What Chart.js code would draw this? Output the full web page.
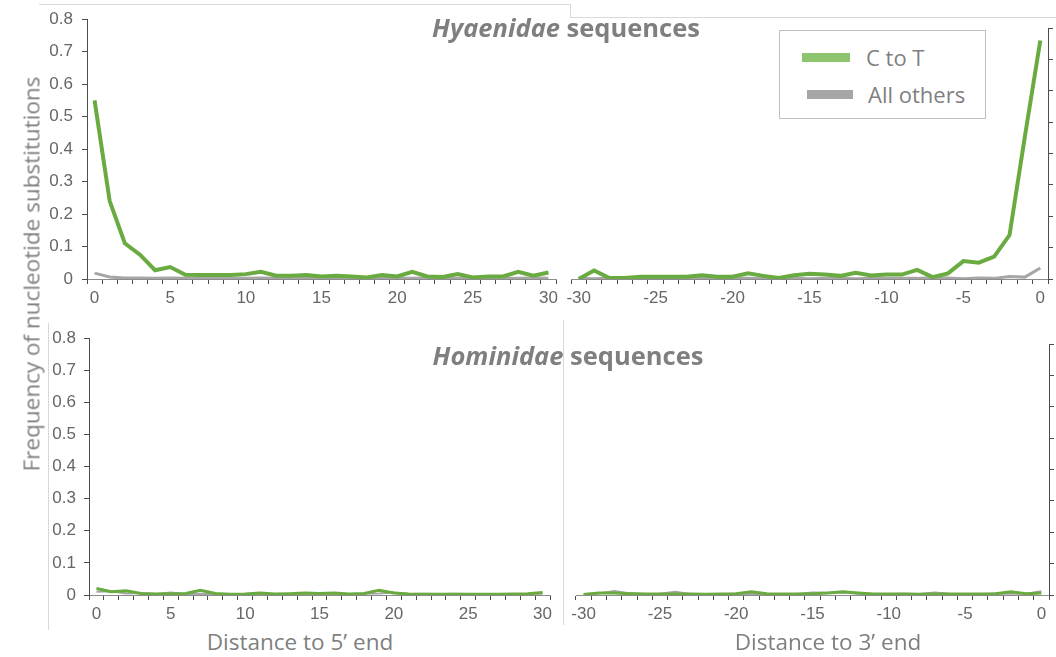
<!DOCTYPE html>
<html>
<head>
<meta charset="utf-8">
<script src="https://cdn.jsdelivr.net/npm/chart.js@4.4.1/dist/chart.umd.min.js"></script>
<style>
    html, body { margin: 0; padding: 0; background: #fff; }
    #wrap { position: relative; width: 1056px; height: 657px; overflow: hidden; font-family: 'Open Sans', sans-serif; color: #7f7f7f; }
    .panel { position: absolute; }
    .txt { position: absolute; white-space: nowrap; }
    .line { position: absolute; background: #d9d9d9; }
</style>
</head>
<body>
<div id="wrap">
    <div class="line" style="left:39px;top:4px;width:531px;height:1px;"></div>
    <div class="line" style="left:570px;top:4px;width:1px;height:13px;"></div>
    <div class="line" style="left:570px;top:17px;width:486px;height:1px;"></div>
    <div class="line" style="left:48px;top:323px;width:1px;height:307px;"></div>
    <div class="line" style="left:563px;top:320px;width:1px;height:305px;"></div>

    <div class="panel" style="left:30px;top:0;width:536px;height:310px;"><canvas id="hyaena5"></canvas></div>
    <div class="panel" style="left:561px;top:0;width:495px;height:310px;"><canvas id="hyaena3"></canvas></div>
    <div class="panel" style="left:32px;top:320px;width:528px;height:306px;"><canvas id="hominid5"></canvas></div>
    <div class="panel" style="left:566px;top:320px;width:490px;height:306px;"><canvas id="hominid3"></canvas></div>

    <div class="txt" style="left:566px;top:10px;transform:translateX(-50%);font-size:25.5px;font-weight:700;"><i>Hyaenidae</i> sequences</div>
    <div class="txt" style="left:568px;top:338px;transform:translateX(-50%);font-size:25.5px;font-weight:700;"><i>Hominidae</i> sequences</div>
    <div class="txt" style="left:31px;top:274px;transform:translate(-50%,-50%) rotate(-90deg);font-size:22.5px;">Frequency of nucleotide substitutions</div>
    <div class="txt" style="left:300px;top:626px;transform:translateX(-50%);font-size:22.5px;">Distance to 5’ end</div>
    <div class="txt" style="left:828px;top:626px;transform:translateX(-50%);font-size:22.5px;">Distance to 3’ end</div>

    <div style="position:absolute;left:779px;top:30px;width:205px;height:87px;border:1px solid #bfbfbf;background:#fff;">
        <div style="position:absolute;left:22px;top:22px;width:48px;height:9px;background:#8fc46f;"></div>
        <div class="txt" style="left:86px;top:11px;font-size:22px;">C to T</div>
        <div style="position:absolute;left:27px;top:59px;width:46px;height:9px;background:#a6a6a6;"></div>
        <div class="txt" style="left:88px;top:48px;font-size:22px;">All others</div>
    </div>
</div>

<script>
    // Vị trí tính từ đầu 5' và đầu 3'
    const labels5 = ['0', '1', '2', '3', '4', '5', '6', '7', '8', '9', '10', '11', '12', '13', '14', '15',
        '16', '17', '18', '19', '20', '21', '22', '23', '24', '25', '26', '27', '28', '29', '30'];
    const labels3 = ['-30', '-29', '-28', '-27', '-26', '-25', '-24', '-23', '-22', '-21', '-20', '-19', '-18', '-17', '-16', '-15',
        '-14', '-13', '-12', '-11', '-10', '-9', '-8', '-7', '-6', '-5', '-4', '-3', '-2', '-1', '0'];
    const shownXTicks = ['-30', '-25', '-20', '-15', '-10', '-5', '0', '5', '10', '15', '20', '25', '30'];
    const yTicks = [0, 0.1, 0.2, 0.3, 0.4, 0.5, 0.6, 0.7, 0.8];

    // Hyaenidae
    const hyaCtoT5 = [0.55, 0.24, 0.11, 0.075, 0.027, 0.037, 0.013, 0.012, 0.012, 0.012, 0.015, 0.022, 0.01, 0.01, 0.012, 0.008,
        0.01, 0.008, 0.005, 0.012, 0.008, 0.022, 0.008, 0.006, 0.015, 0.005, 0.008, 0.008, 0.022, 0.01, 0.02];
    const hyaOther5 = [0.018, 0.006, 0.003, 0.003, 0.002, 0.003, 0.002, 0.002, 0.003, 0.002, 0.002, 0.003, 0.002, 0.002, 0.002, 0.003,
        0.002, 0.002, 0.003, 0.002, 0.002, 0.002, 0.003, 0.002, 0.002, 0.003, 0.002, 0.002, 0.002, 0.003, 0.002];
    const hyaCtoT3 = [0, 0.027, 0.003, 0.003, 0.007, 0.007, 0.007, 0.007, 0.012, 0.007, 0.007, 0.018, 0.01, 0.003, 0.012, 0.017,
        0.014, 0.01, 0.02, 0.011, 0.014, 0.014, 0.029, 0.006, 0.018, 0.057, 0.052, 0.071, 0.14, 0.455, 0.76];
    const hyaOther3 = [0.002, 0.001, 0.002, 0.001, 0.002, 0.002, 0.001, 0.002, 0.002, 0.001, 0.002, 0.002, 0.001, 0.002, 0.002, 0.001,
        0.002, 0.002, 0.001, 0.002, 0.002, 0.002, 0.002, 0.005, 0.003, 0.001, 0.003, 0.002, 0.008, 0.006, 0.035];

    // Hominidae
    const homCtoT5 = [0.02, 0.01, 0.013, 0.005, 0.003, 0.004, 0.005, 0.015, 0.005, 0.002, 0.003, 0.006, 0.003, 0.004, 0.006, 0.005,
        0.006, 0.003, 0.005, 0.015, 0.006, 0.003, 0.002, 0.002, 0.002, 0.002, 0.002, 0.002, 0.003, 0.004, 0.008];
    const homOther5 = [0.01, 0.012, 0.005, 0.006, 0.003, 0.008, 0.003, 0.004, 0.003, 0.002, 0.003, 0.004, 0.003, 0.003, 0.004, 0.005,
        0.004, 0.003, 0.004, 0.005, 0.008, 0.003, 0.004, 0.003, 0.004, 0.003, 0.002, 0.003, 0.002, 0.003, 0.004];
    const homCtoT3 = [0.002, 0.006, 0.006, 0.004, 0.003, 0.003, 0.003, 0.003, 0.002, 0.003, 0.004, 0.01, 0.004, 0.003, 0.003, 0.004,
        0.006, 0.01, 0.006, 0.003, 0.003, 0.003, 0.002, 0.003, 0.003, 0.003, 0.003, 0.004, 0.01, 0.004, 0.006];
    const homOther3 = [0.003, 0.005, 0.013, 0.006, 0.003, 0.004, 0.01, 0.003, 0.003, 0.003, 0.004, 0.003, 0.003, 0.003, 0.003, 0.008,
        0.007, 0.008, 0.004, 0.003, 0.003, 0.004, 0.003, 0.008, 0.004, 0.003, 0.003, 0.005, 0.004, 0.004, 0.012];

    const green = '#6aab41';
    const grey = '#a6a6a6';

    function makePanel(id, labels, ctot, others, o) {
        const ctx = document.getElementById(id).getContext('2d');
        return new Chart(ctx, {
            type: 'line',
            data: {
                labels: labels,
                datasets: [{
                    label: 'C to T',
                    data: ctot,
                    borderColor: green,
                    borderWidth: o.lineWidth,
                    pointRadius: 0,
                    tension: 0
                }, {
                    label: 'All others',
                    data: others,
                    borderColor: grey,
                    borderWidth: o.lineWidth - 1,
                    pointRadius: 0,
                    tension: 0
                }]
            },
            options: {
                responsive: true,
                maintainAspectRatio: false,
                animation: false,
                layout: {
                    padding: { top: o.padTop, right: o.padRight, left: o.padLeft, bottom: 0 }
                },
                plugins: {
                    legend: { display: false },
                    tooltip: { enabled: false }
                },
                scales: {
                    x: {
                        type: 'category',
                        offset: true,
                        grid: {
                            offset: true,
                            drawOnChartArea: false,
                            drawTicks: true,
                            tickLength: 5,
                            tickColor: '#4d4d4d'
                        },
                        border: { display: true, color: '#8c8c8c', width: 1 },
                        ticks: {
                            autoSkip: false,
                            maxRotation: 0,
                            padding: 4,
                            color: '#666',
                            font: { family: "'Liberation Sans', Arial, sans-serif", size: 17 },
                            callback: function (value) {
                                const lab = this.getLabelForValue(value);
                                return shownXTicks.includes(lab) ? lab : '';
                            }
                        },
                        afterFit: function (scale) { scale.height = 31; }
                    },
                    y: {
                        position: o.yPos,
                        min: 0,
                        max: 0.8,
                        afterBuildTicks: function (scale) {
                            scale.ticks = yTicks.map(function (v) { return { value: v }; });
                        },
                        grid: {
                            drawOnChartArea: false,
                            drawTicks: true,
                            tickLength: 5,
                            tickColor: '#4d4d4d'
                        },
                        border: { display: true, color: '#4d4d4d', width: 1 },
                        ticks: {
                            display: o.yLabels,
                            padding: o.yPad,
                            color: '#666',
                            font: { family: "'Liberation Sans', Arial, sans-serif", size: 17 },
                            callback: function (value) {
                                return value === 0 ? '0' : value.toFixed(1);
                            }
                        },
                        afterFit: function (scale) { scale.width = o.yWidth; }
                    }
                }
            }
        });
    }

    makePanel('hyaena5', labels5, hyaCtoT5, hyaOther5,
        { lineWidth: 4, padTop: 14, padRight: 10, padLeft: 0, yPos: 'left', yLabels: true, yPad: 9, yWidth: 57 });
    makePanel('hyaena3', labels3, hyaCtoT3, hyaOther3,
        { lineWidth: 4, padTop: 28, padRight: 0, padLeft: 10, yPos: 'right', yLabels: false, yPad: 0, yWidth: 8 });
    makePanel('hominid5', labels5, homCtoT5, homOther5,
        { lineWidth: 3, padTop: 16, padRight: 10, padLeft: 0, yPos: 'left', yLabels: true, yPad: 8, yWidth: 57 });
    makePanel('hominid3', labels3, homCtoT3, homOther3,
        { lineWidth: 3, padTop: 24, padRight: 0, padLeft: 10, yPos: 'right', yLabels: false, yPad: 0, yWidth: 7 });
</script>
</body>
</html>
